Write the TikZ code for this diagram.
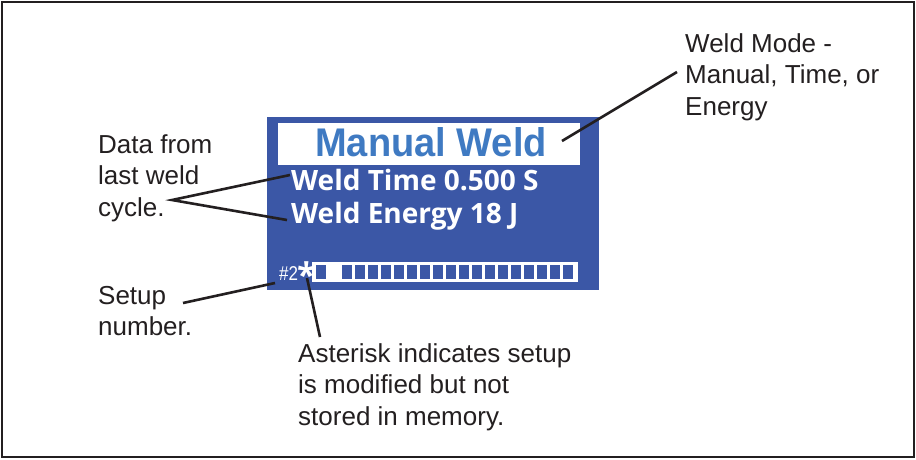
\documentclass[tikz,border=0pt]{standalone}
\usepackage{fontspec}
\setmainfont{Liberation Sans}
\newfontfamily\lcdfont{Open Sans}
\newfontfamily\modefont{Liberation Sans}
\definecolor{lcdblue}{RGB}{59,87,166}
\definecolor{modeblue}{RGB}{63,122,194}
\definecolor{inkgray}{RGB}{35,31,32}

\begin{document}
\begin{tikzpicture}
		[%%%%%%%%%%%%%%%%%%%%%%%%%%%%%%
		x=1pt,y=-1pt,
		label/.style={anchor=north west,inner sep=0pt,align=left,text=inkgray,font=\fontsize{26}{31.5}\selectfont},
		callout/.style={draw=inkgray,line width=2.6pt},
		panel/.style={rectangle,inner sep=0pt,anchor=north west},
		lcdline/.style={anchor=base west,inner sep=0pt,text=white,font=\lcdfont\bfseries\fontsize{28}{28}\selectfont},
		cell/.style={rectangle,fill=lcdblue,minimum width=10pt,minimum height=14pt,inner sep=0pt},
		]%%%%%%%%%%%%%%%%%%%%%%%%%%%%%%

		\useasboundingbox (0,0) rectangle (916,459);
		\draw[line width=2.5pt,inkgray] (2,2) rectangle (914,457);

		% display
		\node[panel,fill=lcdblue,minimum width=332pt,minimum height=173pt] (lcd) at (267,117) {};
		\node[panel,fill=white,minimum width=302pt,minimum height=42pt] (modebox) at (278,123) {};
		\node[anchor=base,inner sep=0pt,text=modeblue,font=\modefont\bfseries\fontsize{40}{40}\selectfont,xscale=0.95] (mode) at (431,156) {Manual Weld};
		\node[lcdline] (time) at (291,190) {Weld Time 0.500 S};
		\node[lcdline] (energy) at (291,223) {Weld Energy 18 J};
		\node[anchor=base west,inner sep=0pt,text=white,font=\fontsize{20}{20}\selectfont,xscale=0.85] (setupno) at (279,280) {\#2};
		\node[anchor=north,inner sep=0pt,text=white,font=\lcdfont\bfseries\fontsize{34}{34}\selectfont] (star) at (306.5,261) {*};

		% bar
		\node[panel,fill=white,minimum width=266pt,minimum height=20pt] (bar) at (312,262) {};
		\node[cell] (c0) at (321,272) {};
		\foreach \i in {1,...,18}
			\node[cell] (c\i) at (334+13*\i,272) {};

		% labels
		\node[label] (modelbl) at (685,33) {Weld Mode -\\Manual, Time, or\\Energy};
		\node[label] (datalbl) at (98,134) {Data from\\last weld\\cycle.};
		\node[label] (setuplbl) at (98,286) {Setup\\number.};
		\node[label] (starlbl) at (298,343) {Asterisk indicates setup\\is modified but not\\stored in memory.};

		% callouts
		\coordinate (modetip) at (562,141);
		\coordinate (modeend) at (677,72);
		\coordinate (datatip) at (172,200);
		\coordinate (timetip) at (290,175);
		\coordinate (energytip) at (287,220);
		\coordinate (setupend) at (183,303);
		\coordinate (setuptip) at (275,283);
		\coordinate (startip) at (307,278);
		\coordinate (starend) at (320,337);
		\draw[callout] (modetip) -- (modeend);
		\draw[callout] (timetip) -- (datatip) -- (energytip);
		\draw[callout] (setupend) -- (setuptip);
		\draw[callout] (startip) -- (starend);
		\end{tikzpicture}
\end{document}
